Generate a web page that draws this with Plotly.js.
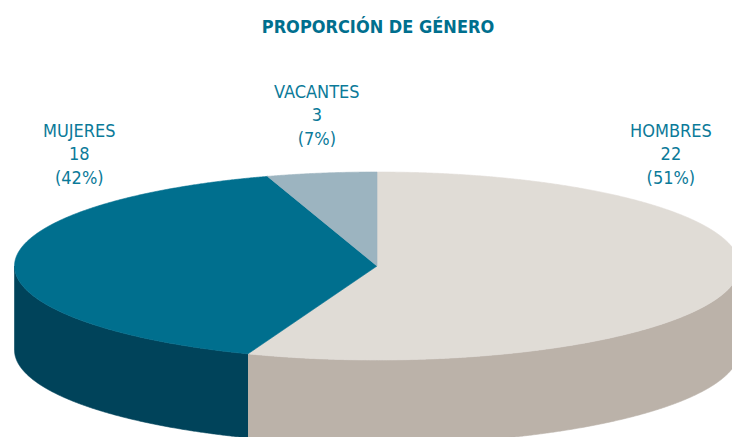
<!DOCTYPE html>
<html>
<head>
<meta charset="utf-8">
<script src="https://cdn.plot.ly/plotly-3.0.1.min.js"></script>
<style>html,body{margin:0;padding:0;background:#fff}#chart{width:732px;height:437px}</style>
</head>
<body>
<div id="chart"></div>
<script>
// Data
const categories = ['HOMBRES', 'MUJERES', 'VACANTES'];
const counts = [22, 18, 3];
const chartTitle = 'PROPORCIÓN DE GÉNERO';

// Styles
const topColors = ['#e0dcd6', '#006f8e', '#9cb4c0'];
const wallColors = ['#bbb2a9', '#00435a', '#9cb4c0'];
const textColor = '#0b7a99';
// Apparent angular stretch of each slice in the tilted-disc view of the picture
const viewStretch = [1.091, 0.94, 0.70];
const labelAnchors = [[671, 154], [79, 154], [317, 115]];

// Disc geometry, in axis units
const cx = 377, cy = 266, rx = 362.5, ry = 94, depth = 84;
const total = counts.reduce((a, b) => a + b, 0);
const rawSweep = counts.map((v, i) => v / total * 360 * viewStretch[i]);
const sweepSum = rawSweep.reduce((a, b) => a + b, 0);
const sweeps = rawSweep.map(s => s * 360 / sweepSum);

const px = d => cx + rx * Math.sin(d * Math.PI / 180);
const py = (d, off) => cy - ry * Math.cos(d * Math.PI / 180) + (off || 0);
function arc(a, b) {
  const out = [];
  const n = Math.max(2, Math.ceil(Math.abs(b - a) * 4));
  for (let i = 0; i <= n; i++) out.push(a + (b - a) * i / n);
  return out;
}
function poly(color, xs, ys) {
  return {type: 'scatter', mode: 'lines', x: xs, y: ys, fill: 'toself', fillcolor: color,
          line: {width: 0.6, color: color, simplify: false}, hoverinfo: 'skip', showlegend: false};
}

const walls = [], tops = [];
let start = 0;
categories.forEach((c, i) => {
  const end = start + sweeps[i];
  const a = Math.max(start, 90), b = Math.min(end, 270);
  if (b > a) {
    const s = arc(a, b), r = s.slice().reverse();
    walls.push(poly(wallColors[i],
      s.map(d => px(d)).concat(r.map(d => px(d))),
      s.map(d => py(d)).concat(r.map(d => py(d, depth)))));
  }
  const s = arc(start, end);
  tops.push(poly(topColors[i], [cx].concat(s.map(px), [cx]), [cy].concat(s.map(d => py(d)), [cy])));
  start = end;
});

const annotations = categories.map((c, i) => ({
  x: labelAnchors[i][0], y: labelAnchors[i][1], xref: 'x', yref: 'y',
  text: c + '<br>' + counts[i] + '<br>(' + Math.round(counts[i] / total * 100) + '%)',
  showarrow: false, align: 'center', xanchor: 'center', yanchor: 'middle',
  font: {family: '"DejaVu Sans Condensed", "DejaVu Sans", sans-serif', size: 18, color: textColor}
}));

const hidden = {visible: false, showgrid: false, zeroline: false, fixedrange: true};
Plotly.newPlot('chart', walls.concat(tops), {
  width: 732, height: 437,
  margin: {l: 0, r: 0, t: 0, b: 0},
  paper_bgcolor: '#ffffff', plot_bgcolor: '#ffffff',
  showlegend: false,
  title: {text: '<b>' + chartTitle + '</b>', x: 378 / 732, xanchor: 'center', y: 1 - 27 / 437, yanchor: 'middle',
          font: {family: '"DejaVu Sans Condensed", "DejaVu Sans", sans-serif', size: 18, color: '#006f8e'}},
  xaxis: Object.assign({range: [0, 732]}, hidden),
  yaxis: Object.assign({range: [437, 0]}, hidden),
  annotations: annotations
}, {displayModeBar: false, staticPlot: true});
</script>
</body>
</html>
